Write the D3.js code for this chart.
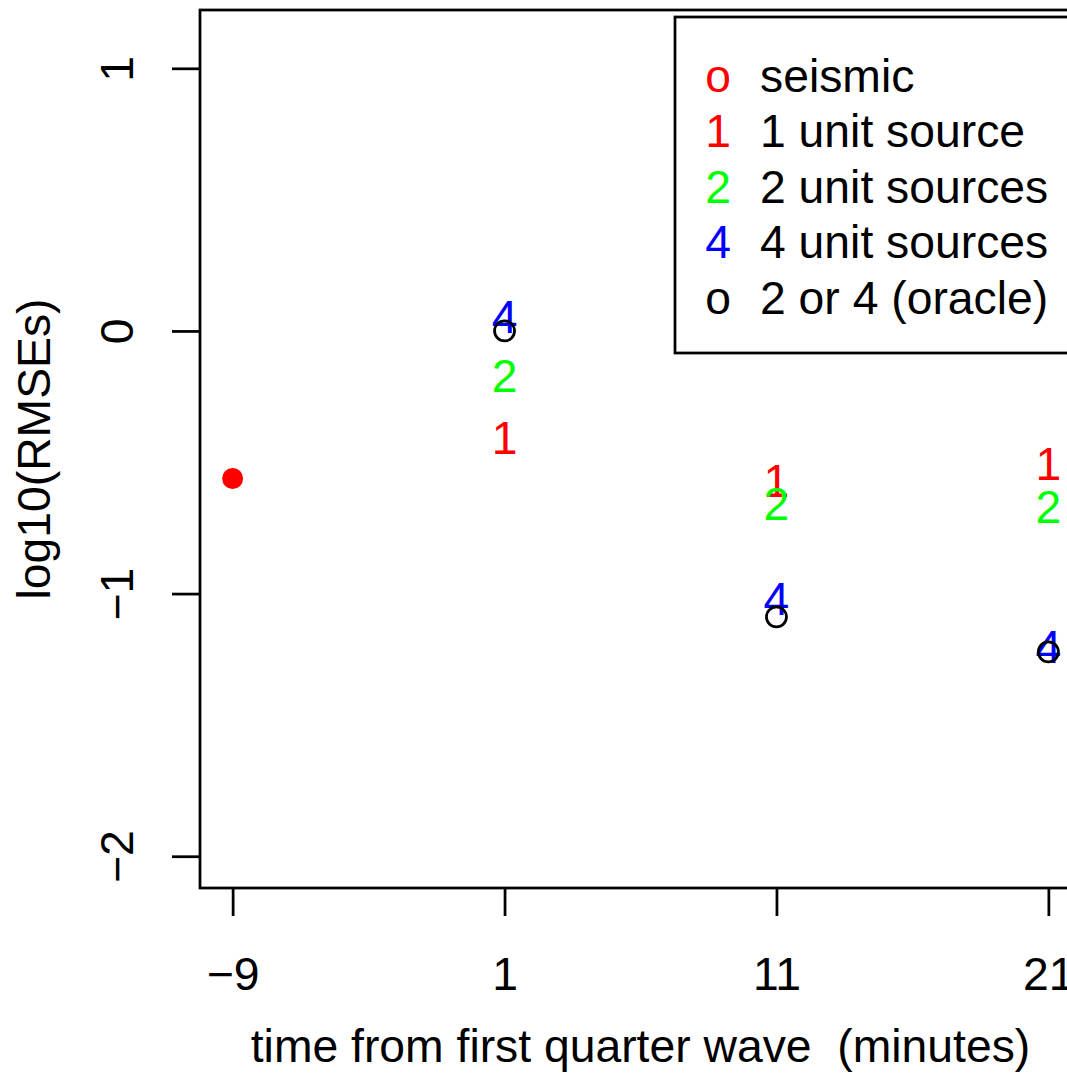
<!DOCTYPE html>
<html>
<head>
<meta charset="utf-8">
<script src="https://cdn.jsdelivr.net/npm/d3@7"></script>
<style>
  html, body { margin: 0; padding: 0; background: #fff; }
  svg { display: block; }
  text { font-family: "Liberation Sans", Arial, Helvetica, sans-serif; white-space: pre; }
</style>
</head>
<body>
<script>
// Forecast error (log10 RMSE) by time since the first quarter wave
const times = [1, 11, 21];
const seismicTime = -9;
const seismicValue = -0.562;
const oneUnit = [-0.406, -0.571, -0.506];
const twoUnits = [-0.168, -0.655, -0.670];
const fourUnits = [0.057, -1.020, -1.203];
const oracle = [0.0, -1.089, -1.222];

const xTicks = [-9, 1, 11, 21];
const yTicks = [-2, -1, 0, 1];

const legendSymbols = ["o", "1", "2", "4", "o"];
const legendLabels = ["seismic", "1 unit source", "2 unit sources", "4 unit sources", "2 or 4 (oracle)"];
const legendColors = ["#ff0000", "#ff0000", "#00ff00", "#0000ff", "#000000"];

const W = 1067, H = 1085;
const FS = 46.3;
const LW = 2.75;

const svg = d3.select("body").append("svg")
  .attr("width", W).attr("height", H);

const x = d3.scaleLinear().domain([-10.2, 22.2]).range([200, 1081]);
const y = d3.scaleLinear().domain([-2.121, 1.222]).range([888, 10]);

const fmt = d => (d < 0 ? "\u2212" + Math.abs(d) : String(d));

// axes
const xAxis = svg.append("g")
  .attr("transform", `translate(0,${y.range()[0]})`)
  .call(d3.axisBottom(x).tickValues(xTicks).tickSize(28).tickSizeOuter(0).tickFormat(fmt));
xAxis.select(".domain").remove();
xAxis.selectAll(".tick line").attr("stroke", "#000").attr("stroke-width", LW);
xAxis.selectAll(".tick text")
  .attr("y", 102).attr("dy", null)
  .attr("fill", "#000").attr("font-size", FS)
  .attr("font-family", "Liberation Sans, Arial, sans-serif");

const yAxis = svg.append("g")
  .attr("transform", `translate(${x.range()[0]},0)`)
  .call(d3.axisLeft(y).tickValues(yTicks).tickSize(28).tickSizeOuter(0).tickFormat(fmt));
yAxis.select(".domain").remove();
yAxis.selectAll(".tick line").attr("stroke", "#000").attr("stroke-width", LW);
yAxis.selectAll(".tick text")
  .attr("x", null).attr("dy", null)
  .attr("transform", "translate(-67,0) rotate(-90)")
  .attr("text-anchor", "middle")
  .attr("fill", "#000").attr("font-size", FS)
  .attr("font-family", "Liberation Sans, Arial, sans-serif");

// plot frame
svg.append("rect")
  .attr("x", x.range()[0]).attr("y", y.range()[1])
  .attr("width", x.range()[1] - x.range()[0])
  .attr("height", y.range()[0] - y.range()[1])
  .attr("fill", "none").attr("stroke", "#000").attr("stroke-width", LW);

// axis titles
svg.append("text")
  .attr("x", (x.range()[0] + x.range()[1]) / 2).attr("y", 1062)
  .attr("text-anchor", "middle").attr("font-size", FS)
  .attr("xml:space", "preserve")
  .text("time from first quarter wave  (minutes)");

svg.append("text")
  .attr("transform", `translate(50,${(y.range()[0] + y.range()[1]) / 2}) rotate(-90)`)
  .attr("text-anchor", "middle").attr("font-size", FS)
  .text("log10(RMSEs)");

// seismic estimate
svg.append("circle")
  .attr("cx", x(seismicTime)).attr("cy", y(seismicValue))
  .attr("r", 10.5).attr("fill", "#ff0000");

// unit-source counts drawn as their digit
const digitOffset = FS * 0.358;
const series = [
  { values: oneUnit, label: "1", color: "#ff0000" },
  { values: twoUnits, label: "2", color: "#00ff00" },
  { values: fourUnits, label: "4", color: "#0000ff" }
];
series.forEach(s => {
  svg.append("g").selectAll("text")
    .data(times.map((t, i) => ({ t, v: s.values[i] })))
    .join("text")
    .attr("x", d => x(d.t))
    .attr("y", d => y(d.v) + digitOffset)
    .attr("text-anchor", "middle")
    .attr("font-size", FS)
    .attr("fill", s.color)
    .text(s.label);
});

// oracle choice
svg.append("g").selectAll("circle")
  .data(times.map((t, i) => ({ t, v: oracle[i] })))
  .join("circle")
  .attr("cx", d => x(d.t)).attr("cy", d => y(d.v))
  .attr("r", 10).attr("fill", "none")
  .attr("stroke", "#000").attr("stroke-width", LW);

// legend
const legend = svg.append("g");
legend.append("rect")
  .attr("x", 675).attr("y", 17).attr("width", 399).attr("height", 336)
  .attr("fill", "#fff").attr("stroke", "#000").attr("stroke-width", LW);
const rowY = d3.scalePoint().domain(d3.range(legendLabels.length)).range([91.7, 314]);
legend.selectAll("text.sym")
  .data(legendSymbols)
  .join("text").attr("class", "sym")
  .attr("x", 718).attr("y", (d, i) => rowY(i))
  .attr("text-anchor", "middle").attr("font-size", FS)
  .attr("fill", (d, i) => legendColors[i])
  .text(d => d);
legend.selectAll("text.lab")
  .data(legendLabels)
  .join("text").attr("class", "lab")
  .attr("x", 760).attr("y", (d, i) => rowY(i))
  .attr("font-size", FS).attr("fill", "#000")
  .text(d => d);
</script>
</body>
</html>
